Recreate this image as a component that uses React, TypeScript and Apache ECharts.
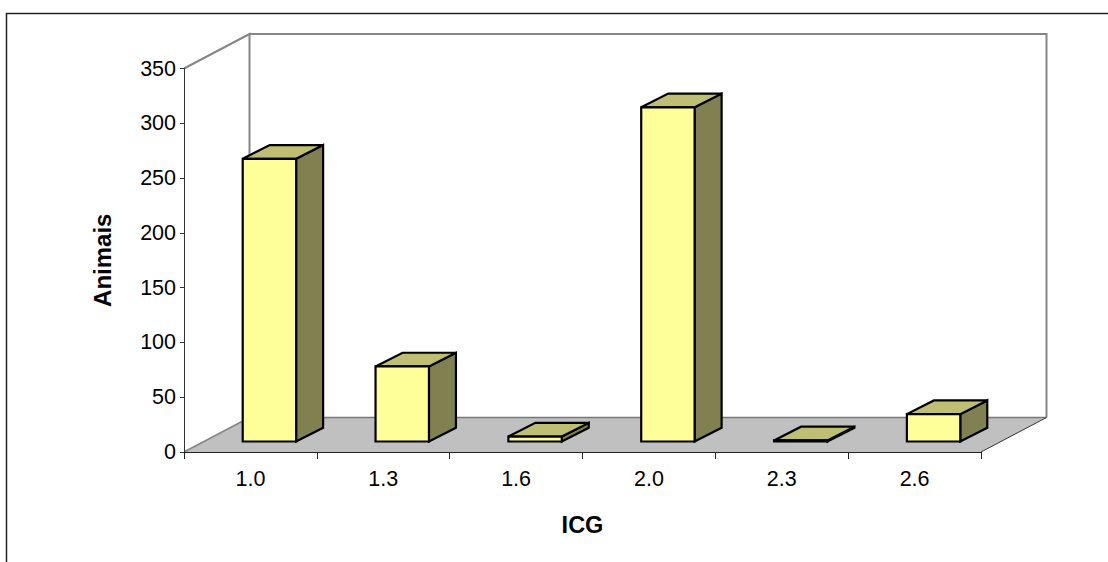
import React, { useEffect, useRef } from "react";
import * as echarts from "echarts";

const categories = ["1.0", "1.3", "1.6", "2.0", "2.3", "2.6"];
const animais = [258, 68.5, 4.5, 305, 1, 25];
const yTicksMax = 350;
const yTickStep = 50;
const xTitle = "ICG";
const yTitle = "Animais";

const FONT = '"Liberation Sans", Arial, sans-serif';
const WALL_DX = 65.5;
const WALL_DY = 34.5;
const BAR_DX = 27;
const BAR_DY = 13.7;

function renderRoom(params: any) {
  const c = params.coordSys;
  const l = c.x, t = c.y, r = c.x + c.width, b = c.y + c.height;
  const wall = { stroke: "#868686", lineWidth: 2, fill: "none" };
  return {
    type: "group",
    children: [
      {
        type: "polygon",
        shape: { points: [[l, b], [l + WALL_DX, b - WALL_DY], [r + WALL_DX, b - WALL_DY], [r, b]] },
        style: { fill: "#C0C0C0", stroke: "none" },
      },
      { type: "polyline", shape: { points: [[l, t], [l + WALL_DX, t - WALL_DY], [l + WALL_DX, b - WALL_DY]] }, style: wall },
      { type: "polyline", shape: { points: [[l + WALL_DX, t - WALL_DY], [r + WALL_DX, t - WALL_DY], [r + WALL_DX, b - WALL_DY]] }, style: wall },
      { type: "line", shape: { x1: l, y1: b, x2: l + WALL_DX, y2: b - WALL_DY }, style: { stroke: "#868686", lineWidth: 1.6 } },
      { type: "line", shape: { x1: l + WALL_DX, y1: b - WALL_DY, x2: r + WALL_DX, y2: b - WALL_DY }, style: { stroke: "#777777", lineWidth: 1.6 } },
      { type: "line", shape: { x1: r, y1: b, x2: r + WALL_DX, y2: b - WALL_DY }, style: { stroke: "#333333", lineWidth: 1 } },
    ],
  };
}

function renderBar(_params: any, api: any) {
  const idx = api.value(0);
  const val = api.value(1);
  const p0 = api.coord([idx, 0]);
  const pv = api.coord([idx, val]);
  const band = api.size([1, 0])[0];
  const w = band * 0.402;
  const xl = p0[0] + band * 0.143 - w / 2;
  const xr = xl + w;
  const yb = p0[1] - 10.5;
  const yt = yb - (p0[1] - pv[1]);
  const edge = { stroke: "#000000", lineWidth: 2.2, lineJoin: "miter" };
  return {
    type: "group",
    children: [
      {
        type: "polygon",
        shape: { points: [[xr, yt], [xr + BAR_DX, yt - BAR_DY], [xr + BAR_DX, yb - BAR_DY], [xr, yb]] },
        style: { fill: "#808050", ...edge },
      },
      {
        type: "polygon",
        shape: { points: [[xl, yt], [xl + BAR_DX, yt - BAR_DY], [xr + BAR_DX, yt - BAR_DY], [xr, yt]] },
        style: { fill: "#BFBF73", ...edge },
      },
      {
        type: "polygon",
        shape: { points: [[xl, yt], [xr, yt], [xr, yb], [xl, yb]] },
        style: { fill: "#FFFF99", ...edge },
      },
    ],
  };
}

export default function App() {
  const ref = useRef<HTMLDivElement>(null);
  useEffect(() => {
    const chart = echarts.init(ref.current!, undefined, { renderer: "svg" });
    chart.setOption({
      animation: false,
      backgroundColor: "#FFFFFF",
      grid: { left: 184, top: 68.5, width: 797, height: 383.5, containLabel: false },
      graphic: [
        {
          type: "polyline",
          shape: { points: [[6.5, 562], [6.5, 13.5], [1108, 13.5]] },
          style: { stroke: "#222222", fill: "none", lineWidth: 1.5 },
        },
      ],
      xAxis: {
        type: "category",
        data: categories,
        z: 3,
        name: xTitle,
        nameLocation: "middle",
        nameGap: 61,
        nameTextStyle: { fontFamily: FONT, fontWeight: "bold", fontSize: 23.5, color: "#000" },
        axisLine: { lineStyle: { color: "#222222", width: 1 } },
        axisTick: { show: true, length: 7, alignWithLabel: false, lineStyle: { color: "#222222", width: 1 } },
        axisLabel: { fontFamily: FONT, fontSize: 21.5, color: "#000", margin: 16, interval: 0 },
        splitLine: { show: false },
      },
      yAxis: {
        type: "value",
        min: 0,
        max: yTicksMax,
        interval: yTickStep,
        z: 3,
        name: yTitle,
        nameLocation: "middle",
        nameGap: 70,
        nameRotate: 90,
        nameTextStyle: { fontFamily: FONT, fontWeight: "bold", fontSize: 24, color: "#000" },
        axisLine: { show: true, lineStyle: { color: "#333333", width: 1 } },
        axisTick: { show: true, length: 4, lineStyle: { color: "#333333", width: 1 } },
        axisLabel: { fontFamily: FONT, fontSize: 21.5, color: "#000", margin: 8 },
        splitLine: { show: false },
      },
      series: [
        { type: "custom", coordinateSystem: "cartesian2d", clip: false, silent: true, z: 1, data: [[0, 0]], renderItem: renderRoom },
        {
          type: "custom",
          coordinateSystem: "cartesian2d",
          clip: false,
          silent: true,
          z: 2,
          encode: { x: 0, y: 1 },
          data: animais.map((v, i) => [i, v]),
          renderItem: renderBar,
        },
      ],
    });
    return () => chart.dispose();
  }, []);
  return <div ref={ref} style={{ position: "fixed", left: 0, top: 0, width: 1108, height: 562 }} />;
}
